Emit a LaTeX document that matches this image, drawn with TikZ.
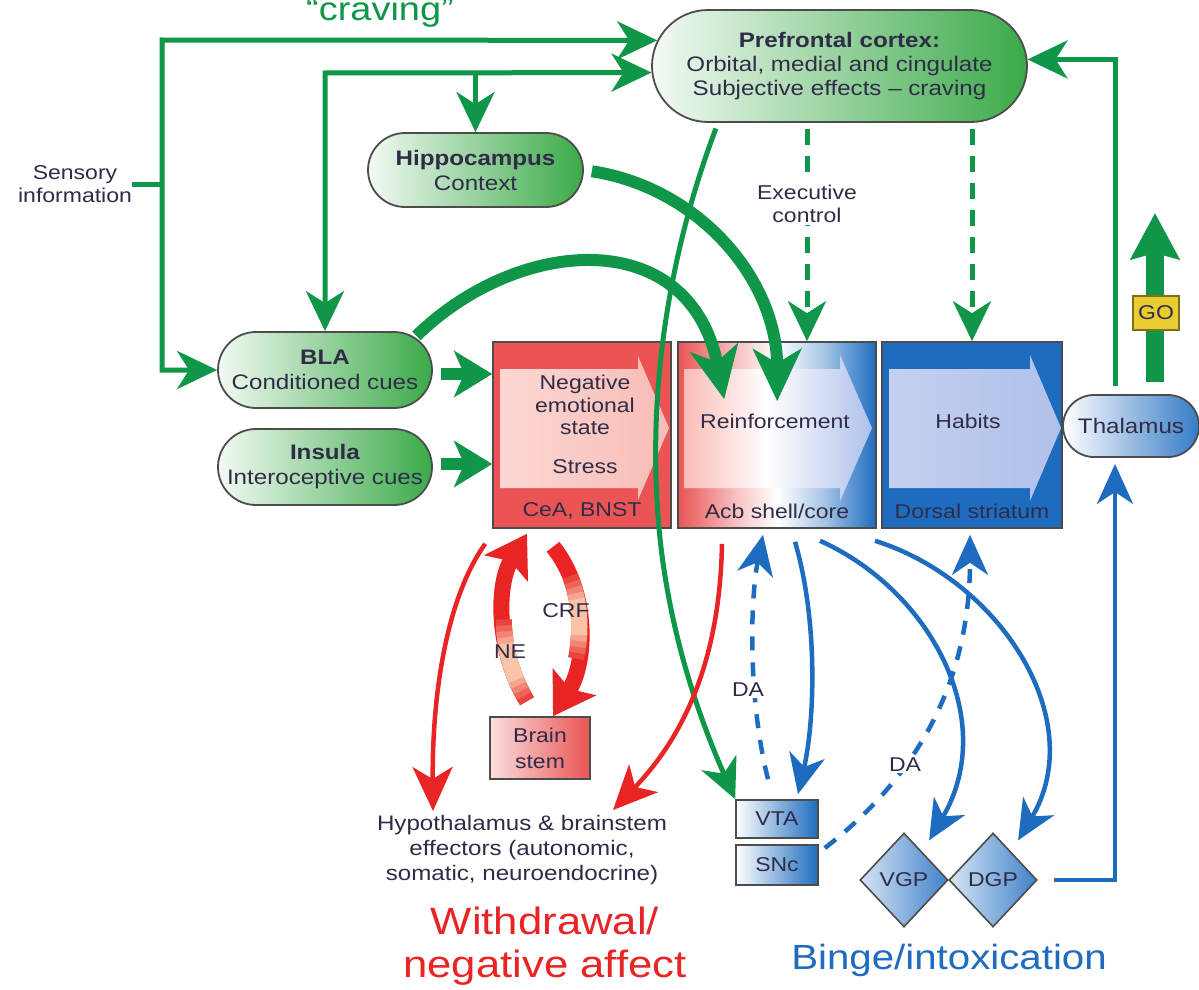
\documentclass[tikz,border=0pt]{standalone}
\usepackage{fontspec}
\setmainfont{Liberation Sans}[FakeStretch=1.15]
\usetikzlibrary{arrows.meta,shapes.misc,shapes.geometric,calc}

\newcommand\tsz[2]{\fontsize{#1}{#2}\selectfont}

\definecolor{grn}{RGB}{16,150,72}
\definecolor{pillg}{RGB}{58,170,72}
\definecolor{blu}{RGB}{30,108,192}
\definecolor{bred}{RGB}{232,36,36}
\definecolor{boxred}{RGB}{234,84,84}
\definecolor{pinkin}{RGB}{249,188,182}
\definecolor{lavin}{RGB}{176,192,234}
\definecolor{ink}{RGB}{48,44,72}
\definecolor{gold}{RGB}{232,204,48}
\definecolor{fadelt}{RGB}{248,196,168}

% horizontal blends for the nucleus accumbens block
\pgfdeclarehorizontalshading{acbband}{100bp}{color(0bp)=(boxred); color(25bp)=(boxred); color(40bp)=(boxred!35!white); color(50bp)=(white); color(62bp)=(blu!40!white); color(75bp)=(blu); color(100bp)=(blu)}
\pgfdeclarehorizontalshading{acbarrow}{100bp}{color(0bp)=(pinkin); color(25bp)=(pinkin); color(47bp)=(white); color(75bp)=(lavin); color(100bp)=(lavin)}

\begin{document}
\begin{tikzpicture}[x=1pt,y=-1pt,
  every node/.style={inner sep=0pt},
  txt/.style={text=ink, align=center, font=\tsz{20}{23}},
  pilltxt/.style={text=ink, align=center, font=\tsz{21}{25}},
  pill/.style={rounded rectangle, draw=black!70, line width=1.8pt,
    left color=pillg!6!white, right color=pillg},
  pillb/.style={pill, left color=white, right color=blu!90},
  sq/.style={rectangle, draw=black!70, line width=1.6pt, align=center,
    text=ink, font=\tsz{20}{26}},
  gp/.style={diamond, draw=black!70, line width=1.6pt, left color=blu!18!white,
    right color=blu!85, minimum width=88pt, minimum height=94pt, text=ink,
    font=\tsz{20}{20}},
  gline/.style={draw=grn, line width=5pt},
  garrow/.style={gline, -{Stealth[length=40pt,width=38pt,inset=12pt]}},
  garrow2/.style={gline, {Stealth[length=40pt,width=38pt,inset=12pt]}-{Stealth[length=40pt,width=38pt,inset=12pt]}},
  gdash/.style={garrow, dash pattern=on 16pt off 11pt},
  gthick/.style={draw=grn, line width=12pt, -{Stealth[length=52pt,width=48pt,inset=14pt]}},
  gshort/.style={draw=grn, line width=12pt, -{Stealth[length=38pt,width=46pt,inset=10pt]}},
  rarrow/.style={draw=bred, line width=4.5pt, -{Stealth[length=44pt,width=40pt,inset=12pt]}},
  rthick/.style={draw=bred, line width=16pt, -{Stealth[length=40pt,width=50pt,inset=8pt]}},
  % lighter stretch along a thick red arrow, built from nested bands:
  % start offset, band length
  fadeband/.style n args={3}{postaction={draw=fadelt!#3!bred, line width=16pt, -,
    dash pattern=on 0pt off #1 on #2 off 2000pt}},
  fade/.style 2 args={
    fadeband={#1}{#2}{20},
    fadeband={#1+6pt}{#2-12pt}{40},
    fadeband={#1+12pt}{#2-24pt}{60},
    fadeband={#1+18pt}{#2-36pt}{80},
    fadeband={#1+24pt}{#2-48pt}{100}},
  barrow/.style={draw=blu, line width=4.5pt, -{Stealth[length=40pt,width=36pt,inset=12pt]}},
  bdash/.style={barrow, dash pattern=on 14pt off 12pt}]

\useasboundingbox (0,0) rectangle (1199,990);
\clip (0,0) rectangle (1199,990);
\fill[white] (0,0) rectangle (1199,990);

% ---------- striatal / amygdala blocks ----------
\node[sq, fill=boxred, minimum width=178pt, minimum height=186pt] (cea) at (582,435) {};
\path[left color=pinkin!60!white, right color=pinkin]
  (500,369) -- (638,369) -- (638,356) -- (669,428) -- (638,500) -- (638,488) -- (500,488) -- cycle;
\node[txt, font=\tsz{20}{22.5}] at (585,405) {Negative\\emotional\\state};
\node[txt] at (585,467) {Stress};
\node[txt] at (582,511) {CeA, BNST};

\node[sq, shade, shading=acbband, minimum width=198pt, minimum height=186pt] (acb) at (777,435) {};
\path[shade, shading=acbarrow]
  (684,369) -- (840,369) -- (840,355) -- (872,428) -- (840,501) -- (840,488) -- (684,488) -- cycle;
\node[txt] at (775,421) {Reinforcement};
\node[txt] at (777,511) {Acb shell/core};

\node[sq, fill=blu, minimum width=180pt, minimum height=186pt] (dst) at (972,435) {};
\path[left color=lavin!75!white, right color=lavin]
  (889,369) -- (1030,369) -- (1030,355) -- (1061,428) -- (1030,501) -- (1030,488) -- (889,488) -- cycle;
\node[txt] at (968,421) {Habits};
\node[txt] at (972,511) {Dorsal striatum};

% ---------- rounded structures ----------
\node[pill, minimum width=375pt, minimum height=112pt,
  label={[pilltxt, font=\tsz{21}{24}]center:{\textbf{Prefrontal cortex:}\\Orbital, medial and cingulate\\Subjective effects -- craving}}] (pfc) at (839.5,66) {};
\node[pill, minimum width=215pt, minimum height=74pt,
  label={[pilltxt]center:{\textbf{Hippocampus}\\Context}}] (hip) at (475.5,170) {};
\node[pill, minimum width=214pt, minimum height=76pt,
  label={[pilltxt]center:{\textbf{BLA}\\Conditioned cues}}] (bla) at (325,370) {};
\node[pill, minimum width=214pt, minimum height=76pt,
  label={[pilltxt]center:{\textbf{Insula}\\Interoceptive cues}}] (ins) at (325,467) {};
\node[pillb, minimum width=136pt, minimum height=62pt,
  label={[pilltxt]center:{Thalamus}}] (thal) at (1131,426) {};

% ---------- lower structures ----------
\node[sq, left color=white!80!boxred, right color=boxred, minimum width=100pt, minimum height=62pt] (bs) at (540,748) {Brain\\stem};
\node[sq, left color=white, right color=blu, minimum width=82pt, minimum height=38pt] (vta) at (777,819) {VTA};
\node[sq, left color=white, right color=blu, minimum width=82pt, minimum height=40pt] (snc) at (777,865) {SNc};
\node[gp] (vgp) at (904,880) {VGP};
\node[gp] (dgp) at (993,880) {DGP};

% ---------- free texts ----------
\node[txt] (sens) at (75,184) {Sensory\\information};
\node[txt, font=\tsz{21}{25}] (hypo) at (522,850) {Hypothalamus \& brainstem\\effectors (autonomic,\\somatic, neuroendocrine)};
\node[text=bred, align=center, font=\tsz{38}{43}] (wd) at (545,946) {Withdrawal/\\negative affect};
\node[text=blu, font=\tsz{35}{40}] (bi) at (949,960) {Binge/intoxication};
\node[text=grn, anchor=base, font=\tsz{33}{33}] (crv) at (380,21) {“craving”};

% ---------- green pathways ----------
\coordinate (c1) at (162,40);
\coordinate (d1) at (325,73);
\coordinate (t1) at (1115,386);
\draw[gline] (sens.east) -- (c1 |- sens.east);
\draw[garrow2] (bla.west) -- (c1 |- bla.west) -- (c1) -- (pfc.172);
\draw[garrow2] (bla.north) -- (d1) -- (pfc.182);
\draw[garrow] (hip.north |- d1) -- (hip.north);
\draw[garrow] (t1) |- (pfc.2);

\draw[gshort, shorten <=8pt] ([shift={(0,4)}]bla.east) -- ([shift={(0,4)}]bla.east -| cea.west);
\draw[gshort, shorten <=8pt] ([shift={(0,-3)}]ins.east) -- ([shift={(0,-3)}]ins.east -| cea.west);

\draw[garrow, shorten <=6pt] (pfc.south -| 718,0) .. controls (670,250) and (650,380) .. (657,500)
  .. controls (663,620) and (700,720) .. (vta.north west);

\coordinate (ain1) at ($(acb.north west)+(100,60)$);
\coordinate (ain2) at ($(acb.north west)+(47,58)$);
\draw[gthick, shorten <=8pt] (hip.east) .. controls (700,188) and (777,280) .. (ain1);
\draw[gthick, shorten <=2pt] (bla.20) .. controls (520,235) and (690,225) .. (ain2);

\draw[gdash, shorten <=6pt] (pfc.south -| 807,0) -- (acb.north -| 807,0);
\draw[gdash, shorten <=6pt] (pfc.south -| dst.north) -- (dst.north);
\node[txt, fill=white, inner sep=2pt] (exc) at (807,204) {Executive\\control};

% GO output
\coordinate (go0) at (1155,382);
\coordinate (go1) at (1155,213);
\draw[draw=grn, line width=18pt, -{Stealth[length=46pt,width=48pt,inset=6pt]}] (go0) -- (go1);
\node[draw=gold!55!black, fill=gold, line width=1.5pt, minimum width=46pt, minimum height=34pt,
  text=ink, font=\tsz{20}{20}] (go) at (1156,313) {GO};

% ---------- red pathways ----------
\draw[rarrow] ([shift={(-7,15)}]cea.south west) .. controls (445,600) and (432,700) .. ([shift={(-89,-4)}]hypo.north);
\draw[rthick, fade={0pt}{86pt}] ([shift={(-13,-15)}]bs.north) .. controls (496,650) and (496,585) .. ([shift={(-55,5)}]cea.south);
\draw[rthick, fade={34pt}{84pt}] ([shift={(-29,18)}]cea.south) .. controls (588,590) and (588,660) .. ([shift={(13,0)}]bs.north);
\draw[rarrow] ([shift={(-55,15)}]acb.south) .. controls (720,650) and (690,730) .. ([shift={(91,-5)}]hypo.north);
\node[txt] (crf) at (566,611) {CRF};
\node[txt] (ne) at (510,652) {NE};

% ---------- blue pathways ----------
\draw[bdash] ([shift={(-9,-20)}]vta.north) .. controls (748,700) and (750,600) .. ([shift={(-14,6)}]acb.south);
\draw[barrow] ([shift={(18,13)}]acb.south) .. controls (818,620) and (815,720) .. ([shift={(21,-5)}]vta.north);
\draw[barrow] ([shift={(43,12)}]acb.south) .. controls (930,590) and (1000,720) .. ([shift={(8,-10)}]vgp.60);
\draw[barrow] ([shift={(98,12)}]acb.south) .. controls (1000,580) and (1090,720) .. ([shift={(8,-10)}]dgp.60);
\draw[bdash] ([shift={(6,-17)}]snc.east) .. controls (900,790) and (970,700) .. ([shift={(-2,6)}]dst.south);
\draw[barrow, shorten <=16pt] (dgp.east) -- (dgp.east -| t1) -- ([shift={(0,6)}]thal.south -| t1);
\node[txt, fill=white, inner sep=1pt] (da1) at (748,690) {DA};
\node[txt, fill=white, inner sep=1pt] (da2) at (905,765) {DA};

\end{tikzpicture}
\end{document}
